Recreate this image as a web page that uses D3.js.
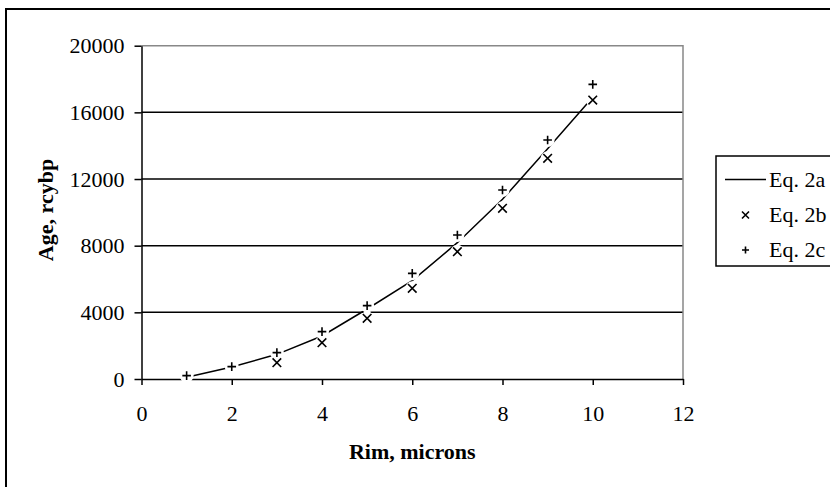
<!DOCTYPE html>
<html>
<head>
<meta charset="utf-8">
<script src="https://cdn.jsdelivr.net/npm/d3@7"></script>
<style>
  body { margin: 0; background: #fff; }
  svg text { font-family: "Liberation Serif", "Times New Roman", serif; fill: #000; }
</style>
</head>
<body>
<div id="chart-area"></div>
<script>
// data
let rim = [1, 2, 3, 4, 5, 6, 7, 8, 9, 10];
let eq2a = [100, 720, 1480, 2580, 4200, 5900, 8180, 10780, 13820, 16900];
let eq2b = [null, null, 980, 2180, 3640, 5440, 7640, 10240, 13240, 16740];
let eq2c = [200, 740, 1580, 2840, 4400, 6340, 8640, 11340, 14340, 17680];
let xTicks = [0, 2, 4, 6, 8, 10, 12];
let yTicks = [0, 4000, 8000, 12000, 16000, 20000];
let legendLabels = ["Eq. 2a", "Eq. 2b", "Eq. 2c"];

let W = 830, H = 487;
let plot = {left: 141.5, right: 683, top: 45.7, bottom: 379};
let fontSize = "22px";

let svg = d3.select("#chart-area").append("svg")
    .attr("width", W)
    .attr("height", H);

// outer chart frame (runs off the right and bottom edge)
svg.append("rect")
    .attr("x", 6).attr("y", 9)
    .attr("width", 900).attr("height", 600)
    .attr("fill", "none")
    .attr("stroke", "#000")
    .attr("stroke-width", 2);

let x = d3.scaleLinear().domain([0, 12]).range([plot.left, plot.right]);
let y = d3.scaleLinear().domain([0, 20000]).range([plot.bottom, plot.top]);

// gridlines
svg.append("g")
  .selectAll("line")
  .data(yTicks.filter(d => d > 0 && d < 20000))
  .enter().append("line")
    .attr("x1", plot.left).attr("x2", plot.right)
    .attr("y1", d => y(d)).attr("y2", d => y(d))
    .attr("stroke", "#000")
    .attr("stroke-width", 1.5);

// plot border top / right (grey)
svg.append("path")
    .attr("d", "M" + plot.left + "," + plot.top + "H" + plot.right + "V" + plot.bottom)
    .attr("fill", "none")
    .attr("stroke", "#888")
    .attr("stroke-width", 1.5);

// axes
let xAxis = d3.axisBottom(x).tickValues(xTicks).tickSize(6).tickSizeOuter(0);
let yAxis = d3.axisLeft(y).tickValues(yTicks).tickFormat(d3.format("d"))
    .tickSize(7).tickSizeOuter(0);

let xg = svg.append("g")
    .attr("transform", "translate(0," + plot.bottom + ")")
    .call(xAxis);
let yg = svg.append("g")
    .attr("transform", "translate(" + plot.left + ",0)")
    .call(yAxis);

[xg, yg].forEach(function(g) {
  g.select(".domain").attr("stroke", "#000").attr("stroke-width", 1.5);
  g.selectAll(".tick line").attr("stroke", "#000").attr("stroke-width", 1.5);
  g.selectAll(".tick text")
    .style("font-family", "'Liberation Serif', serif")
    .style("font-size", fontSize)
    .attr("fill", "#000");
});
xg.selectAll(".tick text").attr("y", 42).attr("dy", 0);
yg.selectAll(".tick text").attr("x", -17);

// axis titles
svg.append("text")
    .attr("x", (plot.left + plot.right) / 2)
    .attr("y", 459)
    .attr("text-anchor", "middle")
    .style("font-size", fontSize)
    .style("font-weight", "bold")
    .text("Rim, microns");

svg.append("text")
    .attr("transform", "translate(53,210)rotate(-90)")
    .attr("text-anchor", "middle")
    .style("font-size", fontSize)
    .style("font-weight", "bold")
    .text("Age, rcybp");

// Eq. 2a line
let line = d3.line()
    .x((d, i) => x(rim[i]))
    .y(d => y(d));

svg.append("path")
    .datum(eq2a)
    .attr("d", line)
    .attr("fill", "none")
    .attr("stroke", "#000")
    .attr("stroke-width", 1.5);

// marker shapes
let s = 4.3;
let crossPath = "M" + (-s) + "," + (-s) + "L" + s + "," + s + "M" + (-s) + "," + s + "L" + s + "," + (-s);
let plusPath = "M" + (-s) + ",0H" + s + "M0," + (-s) + "V" + s;

let pts = [];
eq2b.forEach((v, i) => { if (v != null) pts.push({x: rim[i], v: v, shape: crossPath}); });
eq2c.forEach((v, i) => { if (v != null) pts.push({x: rim[i], v: v, shape: plusPath}); });

// white halo behind markers (the gaps seen in the original)
svg.append("g")
  .selectAll("circle")
  .data(pts)
  .enter().append("circle")
    .attr("cx", d => x(d.x))
    .attr("cy", d => y(d.v))
    .attr("r", 7)
    .attr("fill", "#fff");

svg.append("g")
  .selectAll("path")
  .data(pts)
  .enter().append("path")
    .attr("transform", d => "translate(" + x(d.x) + "," + y(d.v) + ")")
    .attr("d", d => d.shape)
    .attr("fill", "none")
    .attr("stroke", "#000")
    .attr("stroke-width", 1.6);

// legend
let lg = svg.append("g");
lg.append("rect")
    .attr("x", 716).attr("y", 156)
    .attr("width", 200).attr("height", 110)
    .attr("fill", "#fff")
    .attr("stroke", "#000")
    .attr("stroke-width", 1.5);

let rowY = [179.5, 215, 250];
lg.append("line")
    .attr("x1", 725).attr("x2", 766)
    .attr("y1", rowY[0]).attr("y2", rowY[0])
    .attr("stroke", "#000").attr("stroke-width", 1.5);
lg.append("path")
    .attr("transform", "translate(745.5," + rowY[1] + ")")
    .attr("d", "M-3.5,-3.5L3.5,3.5M-3.5,3.5L3.5,-3.5")
    .attr("stroke", "#000").attr("stroke-width", 1.6);
lg.append("path")
    .attr("transform", "translate(745.5," + rowY[2] + ")")
    .attr("d", "M-3.5,0H3.5M0,-3.5V3.5")
    .attr("stroke", "#000").attr("stroke-width", 1.6);

lg.selectAll("text.leg")
  .data(legendLabels)
  .enter().append("text")
    .attr("class", "leg")
    .attr("x", 769)
    .attr("y", (d, i) => rowY[i] + 7)
    .style("font-size", fontSize)
    .text(d => d);
</script>
</body>
</html>
